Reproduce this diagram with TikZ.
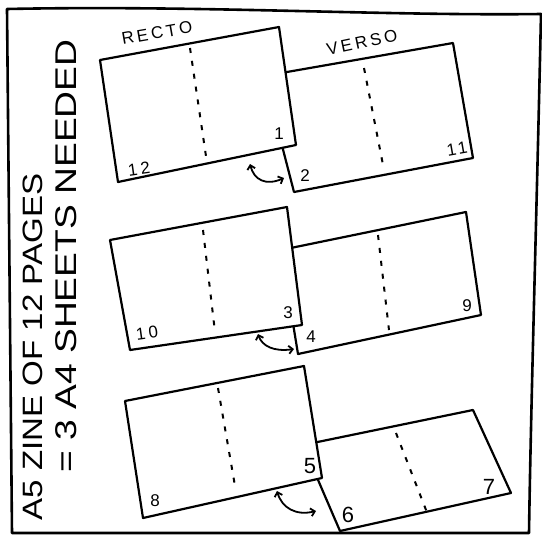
\documentclass[tikz,border=0pt]{standalone}
\usepackage{fontspec}
\setmainfont{Liberation Sans}
\newfontfamily\spacedfont[LetterSpace=18]{Liberation Sans}
\usetikzlibrary{arrows.meta}
\begin{document}
\begin{tikzpicture}[x=1pt,y=1pt,
  frame/.style={draw=black, line width=2.6pt, line join=round},
  sheet/.style={draw=black, line width=2.2pt, fill=white, line join=round},
  fold/.style={draw=black, line width=2pt, dash pattern=on 5pt off 8pt},
  swap/.style={draw=black, line width=1.8pt, {Straight Barb[length=4pt,width=8pt]}-{Straight Barb[length=4pt,width=8pt]}},
  pg/.style={font=\fontsize{17}{17}\selectfont, inner sep=0pt},
  pgwide/.style={font=\spacedfont\fontsize{17}{17}\selectfont, inner sep=0pt},
  pgbig/.style={font=\fontsize{22}{22}\selectfont, inner sep=0pt},
  head/.style={font=\spacedfont\fontsize{17}{17}\selectfont, inner sep=0pt},
  title/.style={rotate=90, inner sep=0pt}]
\useasboundingbox[fill=white] (0,0) rectangle (542,-536);
% outer frame
\draw[frame] (7,-9) .. controls (200,-5) and (380,-16) .. (541,-14)
  .. controls (537,-200) and (531,-400) .. (529,-533) -- (12,-533) -- cycle;
% title
\node[title] (t1) at (33,-347) {\scalebox{1.18}[1]{\fontsize{28}{28}\selectfont A5 ZINE OF 12 PAGES}};
\node[title] (t2) at (66,-256) {\scalebox{1.24}[1]{\fontsize{30}{30}\selectfont = 3 A4 SHEETS NEEDED}};
% sheet 1
\draw[sheet] (264,-76) -- (453,-43) -- (473,-158) -- (294,-192) -- cycle;
\draw[fold] (364,-68) -- (384,-170);
\draw[sheet] (100,-60) -- (279,-27) -- (296,-145) -- (118,-182) -- cycle;
\draw[fold] (190,-48) -- (207,-163);
\node[head, rotate=10] (recto) at (157,-33) {RECTO};
\node[head, rotate=12] (verso) at (362,-42) {VERSO};
\node[pgwide, rotate=8] (p12) at (139,-169) {12};
\node[pg] (p1) at (279,-134) {1};
\node[pg] (p2) at (305,-176) {2};
\node[pgwide, rotate=10] (p11) at (457,-149) {11};
\coordinate (a1s) at (250,-164);
\coordinate (a1e) at (284,-178);
\draw[swap] (a1s) .. controls (254,-180) and (266,-186) .. (a1e);
% sheet 2
\draw[sheet] (281,-250) -- (466,-212) -- (481,-315) -- (298,-354) -- cycle;
\draw[fold] (378,-235) -- (389,-330);
\draw[sheet] (110,-240) -- (287,-207) -- (302,-325) -- (130,-350) -- cycle;
\draw[fold] (203,-230) -- (215,-332);
\node[pgwide, rotate=8] (p10) at (147,-333) {10};
\node[pg] (p3) at (288,-313) {3};
\node[pg] (p4) at (311,-337) {4};
\node[pg] (p9) at (467,-306) {9};
\coordinate (a2s) at (258,-334);
\coordinate (a2e) at (294,-349);
\draw[swap] (a2s) .. controls (262,-346) and (274,-352) .. (a2e);
% sheet 3
\draw[sheet] (303,-445) -- (473,-410) -- (511,-493) -- (340,-531) -- cycle;
\draw[fold] (396,-433) -- (428,-515);
\draw[sheet] (125,-401) -- (304,-366) -- (322,-478) -- (143,-518) -- cycle;
\draw[fold] (218,-388) -- (235,-486);
\node[pg] (p8) at (155,-501) {8};
\node[pgbig] (p5) at (310,-466) {5};
\node[pgbig] (p6) at (348,-515) {6};
\node[pgbig] (p7) at (489,-487) {7};
\coordinate (a3s) at (277,-491);
\coordinate (a3e) at (316,-511);
\draw[swap] (a3s) .. controls (282,-508) and (296,-516) .. (a3e);
\end{tikzpicture}
\end{document}
